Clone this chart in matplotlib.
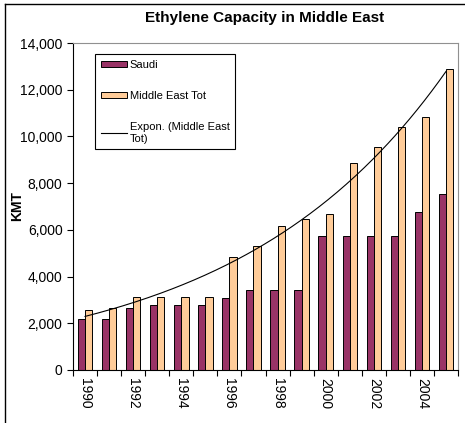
import matplotlib
matplotlib.use("Agg")
import matplotlib.pyplot as plt
from matplotlib.lines import Line2D
from matplotlib.ticker import FuncFormatter
import numpy as np

plt.rcParams['font.family'] = ['Liberation Sans', 'DejaVu Sans']

years = list(range(1990, 2006))
saudi = [2200, 2200, 2650, 2780, 2780, 2780, 3080, 3430, 3430, 3430,
         5720, 5720, 5720, 5720, 6750, 7550]
me_tot = [2560, 2650, 3130, 3130, 3130, 3130, 4850, 5300, 6180, 6450,
          6680, 8850, 9560, 10420, 10820, 12870]
year_labels = [str(y) for y in years[::2]]

SAUDI_COL = '#993366'
ME_COL = '#FFCC99'

fig = plt.figure(figsize=(4.65, 4.23), dpi=100)
ax = fig.add_axes([0.157, 0.1253, 0.828, 0.7730])

x = np.arange(len(years))
w = 0.3
b1 = ax.bar(x - w / 2, saudi, w, color=SAUDI_COL, edgecolor='black', linewidth=0.7, label='Saudi')
b2 = ax.bar(x + w / 2, me_tot, w, color=ME_COL, edgecolor='black', linewidth=0.7, label='Middle East Tot')

# excel style exponential trendline (x = 1..n)
n = np.arange(1, len(years) + 1)
b, lna = np.polyfit(n, np.log(me_tot), 1)
xs = np.linspace(0, len(years) - 1, 200)
ln, = ax.plot(xs, np.exp(lna + b * (xs + 1)), color='black', linewidth=0.8,
              label='Expon. (Middle East\nTot)')

ax.set_xlim(-0.5, len(years) - 0.5)
ax.set_ylim(0, 14000)
ax.set_yticks(np.arange(0, 14001, 2000))
ax.yaxis.set_major_formatter(FuncFormatter(lambda v, p: '{:,}'.format(int(v))))

ax.set_xticks(np.arange(-0.5, len(years), 1))
ax.set_xticklabels([])
ax.set_xticks(x[::2], minor=True)
ax.set_xticklabels(year_labels, minor=True, rotation=270, fontsize=10)
ax.tick_params(axis='x', which='major', direction='out', length=4, width=0.8)
ax.tick_params(axis='x', which='minor', length=0, pad=6)
ax.tick_params(axis='y', direction='out', length=4, width=0.8, labelsize=10)

for s in ['top', 'right']:
    ax.spines[s].set_color('#909090')
    ax.spines[s].set_linewidth(0.8)
for s in ['left', 'bottom']:
    ax.spines[s].set_color('black')
    ax.spines[s].set_linewidth(0.8)

ax.set_ylabel('KMT', fontsize=10, fontweight='bold')
ax.yaxis.set_label_coords(-0.128, 0.5)
fig.text(0.57, 0.957, 'Ethylene Capacity in Middle East', ha='center', va='center',
         fontsize=11, fontweight='bold')

leg = ax.legend([b1, b2, ln], [b1.get_label(), b2.get_label(), ln.get_label()],
                loc='upper left', bbox_to_anchor=(0.057, 0.966), borderaxespad=0,
                fontsize=8, labelspacing=1.9, handlelength=2.35, handleheight=0.5,
                handletextpad=0.3, borderpad=0.5, fancybox=False, framealpha=1)
leg.get_frame().set_edgecolor('black')
leg.get_frame().set_linewidth(0.8)

# chart area border (cropped at the right and bottom)
fig.add_artist(Line2D([5 / 465, 5 / 465], [-0.1, 1 - 4 / 423], transform=fig.transFigure,
                      color='black', linewidth=1))
fig.add_artist(Line2D([5 / 465, 1.1], [1 - 4 / 423, 1 - 4 / 423], transform=fig.transFigure,
                      color='black', linewidth=1))

fig.savefig('out.png', dpi=100)
